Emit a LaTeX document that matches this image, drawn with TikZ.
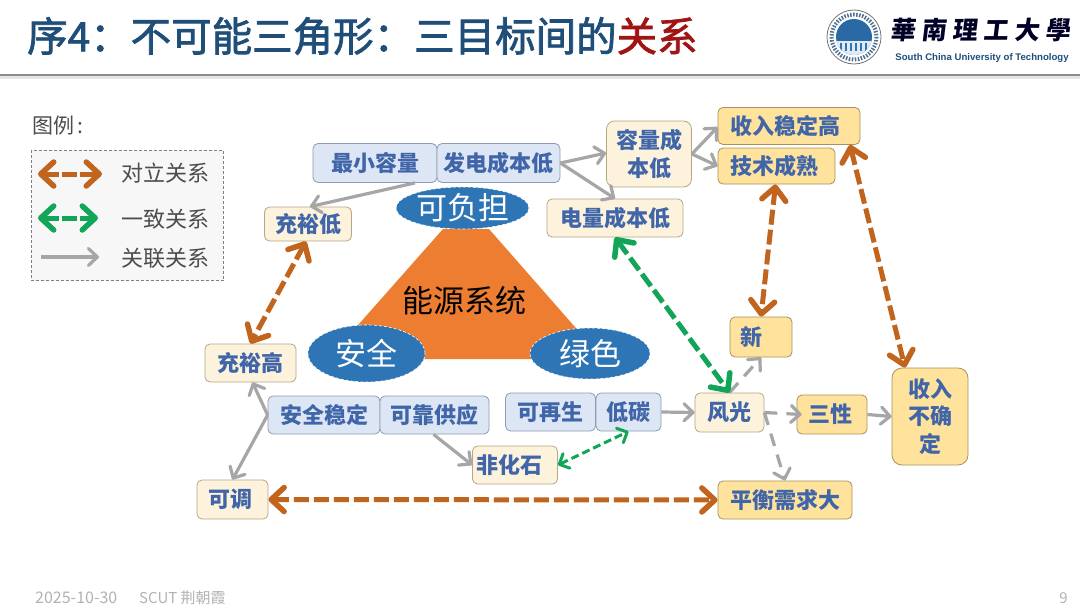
\documentclass[tikz,border=0pt]{standalone}
\usepackage{fontspec}
\usetikzlibrary{arrows.meta,shapes.geometric}
\setmainfont{Noto Sans CJK SC}
\newfontfamily\cjkf{Noto Sans CJK SC}
\newfontfamily\titlef[FakeBold=1.8]{Noto Sans CJK SC}
\newfontfamily\logof[LetterSpace=24,FakeSlant=0.12]{Noto Sans CJK SC}
\newfontfamily\latinb{Liberation Sans}
\definecolor{titleblue}{HTML}{1F4E79}
\definecolor{titlered}{HTML}{A01414}
\definecolor{boxtext}{HTML}{4065A8}
\definecolor{creamfill}{HTML}{FDF3DC}
\definecolor{creamline}{HTML}{B5A785}
\definecolor{goldfill}{HTML}{FFE29C}
\definecolor{goldline}{HTML}{A8925C}
\definecolor{bluefill}{HTML}{DDE6F4}
\definecolor{blueline}{HTML}{8E9BB2}
\definecolor{arrorange}{HTML}{C0641E}
\definecolor{arrgreen}{HTML}{12A558}
\definecolor{arrgray}{HTML}{A6A6A6}
\definecolor{ellblue}{HTML}{2E75B6}
\definecolor{triorange}{HTML}{ED7D31}
\tikzset{
  x=1pt,y=-1pt,
  boxbase/.style={rounded corners=5pt,line width=.8pt,inner sep=0pt,text=boxtext,align=center,
    font=\cjkf\bfseries\fontsize{22}{27.5}\selectfont},
  creambox/.style={boxbase,fill=creamfill,draw=creamline},
  goldbox/.style={boxbase,fill=goldfill,draw=goldline},
  bluebox/.style={boxbase,fill=bluefill,draw=blueline},
  goal/.style={ellipse,inner sep=0pt,fill=ellblue,draw=white,densely dashed,line width=.6pt,text=white,
    font=\cjkf\fontsize{31}{36}\selectfont},
  bighead/.style={Straight Barb[length=13pt,width=24pt,round,line width=5.5pt]},
  oppose/.style={draw=arrorange,line width=5pt,dash pattern=on 15pt off 5pt,{Straight Barb[length=13pt,width=24pt,round,line width=5.5pt]}-{Straight Barb[length=13pt,width=24pt,round,line width=5.5pt]}},
  agreebig/.style={draw=arrgreen,line width=5pt,dash pattern=on 15pt off 5pt,{Straight Barb[length=13pt,width=24pt,round,line width=5.5pt]}-{Straight Barb[length=13pt,width=24pt,round,line width=5.5pt]}},
  agreesmall/.style={draw=arrgreen,line width=3pt,dash pattern=on 8pt off 4pt,{Straight Barb[length=8pt,width=16pt,round,line width=3pt]}-{Straight Barb[length=8pt,width=16pt,round,line width=3pt]}},
  linked/.style={draw=arrgray,line width=3.2pt,-{Straight Barb[length=9pt,width=17pt,round,line width=3.2pt]}},
  linkeddash/.style={linked,dash pattern=on 13pt off 9pt},
  legendtext/.style={inner sep=0pt,text=black!70,font=\cjkf\fontsize{22}{26}\selectfont},
  footer/.style={inner sep=0pt,text=black!30,font=\cjkf\fontsize{15}{17}\selectfont},
}
\begin{document}
\begin{tikzpicture}
\useasboundingbox (0,0) rectangle (1080,608);
\fill[white] (0,0) rectangle (1080,608);
% title band
\node[anchor=west,inner sep=0pt,font=\titlef\fontsize{40.5}{46}\selectfont,text=titleblue] (title) at (27,36)
  {序4：不可能三角形：三目标间的\textcolor{titlered}{关系}};
\fill[black!10] (0,76) rectangle (1080,79);
\draw[black!45,line width=1.2pt] (0,75) -- (1080,75);
% logo
\draw[black!55,line width=.8pt] (854,37) circle[radius=27];
\draw[titleblue!80,line width=4pt,dash pattern=on 1.5pt off 1.5pt] (854,37) circle[radius=22.5];
\fill[ellblue!90!black] (854,37) circle[radius=18];
\begin{scope}
  \clip (854,37) circle[radius=18];
  \fill[white!85!ellblue] (836,41) rectangle (872,56);
  \foreach \k in {0,...,5} {\fill[ellblue] (840+\k*5,43) rectangle +(2,8);}
\end{scope}
\node[inner sep=0pt,text=black!85!blue,font=\logof\bfseries\fontsize{25}{30}\selectfont] (logoa) at (980.5,30) {華南理工大學};
\node[inner sep=0pt,text=titleblue,font=\latinb\bfseries\fontsize{9.6}{12}\selectfont] (logob) at (982,58) {South China University of Technology};
% legend
\node[anchor=west,inner sep=0pt,text=black!70,font=\cjkf\fontsize{21}{24}\selectfont] (legt) at (32,126) {图例\,:};
\draw[black!50,fill=black!3,line width=.6pt,densely dashed] (31,150) rectangle (223.5,280.5);
\coordinate (la) at (38,174); \coordinate (lb) at (102,174);
\coordinate (lc) at (38,218); \coordinate (ld) at (98,218);
\coordinate (le) at (41,257); \coordinate (lf) at (99,257);
\draw[oppose,dash pattern=on 15pt off 3pt] (la) -- (lb);
\draw[agreebig,dash pattern=on 15pt off 3pt] (lc) -- (ld);
\draw[linked] (le) -- (lf);
\node[legendtext,anchor=west] (l1) at (121,173) {对立关系};
\node[legendtext,anchor=west] (l2) at (121,219) {一致关系};
\node[legendtext,anchor=west] (l3) at (121,258) {关联关系};
% central triangle
\fill[triorange] (443,229) -- (489,229) -- (603,359) -- (328,359) -- cycle;
\node[inner sep=0pt,text=black,font=\cjkf\fontsize{31}{36}\selectfont] (core) at (464,301) {能源系统};
\node[goal,minimum width=133pt,minimum height=42pt] (afford) at (462.5,208) {可负担};
\node[goal,minimum width=117pt,minimum height=57pt] (safety) at (366.5,353.5) {安全};
\node[goal,minimum width=120pt,minimum height=51pt] (green) at (590,353.5) {绿色};
% boxes
\node[bluebox,minimum width=124pt,minimum height=39pt] (cmin) at (375,163) {最小容量};
\node[bluebox,minimum width=123pt,minimum height=39pt] (gen) at (498.5,163) {发电成本低};
\node[creambox,minimum width=87pt,minimum height=34pt] (lowr) at (308,224) {充裕低};
\node[creambox,rounded corners=8pt,minimum width=85pt,minimum height=66pt] (capc) at (649,154) {容量成\\本低};
\node[goldbox,minimum width=142pt,minimum height=37pt] (incs) at (789,126) {收入稳定高\hspace{7pt}};
\node[goldbox,minimum width=117pt,minimum height=36pt] (tech) at (776.5,166) {技术成熟\hspace{5pt}};
\node[creambox,minimum width=136pt,minimum height=38pt] (enrg) at (615,218) {电量成本低};
\node[creambox,minimum width=91pt,minimum height=38pt] (highr) at (250.5,363) {充裕高};
\node[bluebox,minimum width=112pt,minimum height=38pt] (safe) at (324,415) {安全稳定};
\node[bluebox,minimum width=109pt,minimum height=38pt] (rely) at (434.5,415) {可靠供应};
\node[bluebox,minimum width=90pt,minimum height=38pt] (renew) at (550.5,412) {可再生};
\node[bluebox,minimum width=65pt,minimum height=38pt] (lowc) at (628.5,412) {低碳};
\node[creambox,minimum width=85pt,minimum height=38pt] (nonf) at (515,465) {非化石\hspace{12pt}};
\node[creambox,minimum width=71pt,minimum height=39pt] (adj) at (232.5,499.5) {可调\hspace{5pt}};
\node[goldbox,minimum width=62pt,minimum height=40pt] (newn) at (761,337) {新\hspace{20pt}};
\node[creambox,minimum width=69pt,minimum height=39pt] (wind) at (729.5,412.5) {风光};
\node[goldbox,minimum width=70pt,minimum height=39pt] (three) at (832,414.5) {三性\hspace{4pt}};
\node[goldbox,rounded corners=10pt,minimum width=76pt,minimum height=97pt] (unst) at (930,416.5) {收入\\不确\\定};
\node[goldbox,minimum width=134pt,minimum height=38pt] (bal) at (785,500) {平衡需求大};
% gray links
\draw[linked] ([xshift=40pt]cmin.south) -- ([xshift=2pt]lowr.north);
\draw[linked] (gen.east) -- ([yshift=1pt]capc.west);
\draw[linked] (gen.east) -- (enrg.north);
\draw[linked] (capc.east) -- ([yshift=-1pt]incs.west);
\draw[linked] (capc.east) -- (tech.west);
\draw[linked] (safe.west) -- ([xshift=2pt]highr.south);
\draw[linked] (safe.west) -- (adj.north);
\draw[linked] ([xshift=-1pt]rely.south) -- (nonf.west);
\draw[linked] (lowc.east) -- (wind.west);
\draw[linked] (three.east) -- (unst.west);
\draw[linkeddash] (wind.north) -- (newn.south);
\draw[linkeddash] (wind.east) -- ([xshift=5pt]three.west);
\draw[linkeddash] (wind.east) -- (bal.north);
% opposing and agreeing relations
\draw[oppose] ([xshift=-1pt]tech.south) -- (newn.north);
\draw[oppose] ([xshift=61pt]incs.south) -- ([xshift=-25pt]unst.north);
\draw[oppose] ([xshift=-2pt]lowr.south) -- (highr.north);
\draw[oppose] (adj.east) -- (bal.west);
\draw[agreebig] (enrg.south) -- (wind.north);
\draw[agreesmall] (nonf.east) -- (lowc.south);
% footer
\node[footer,anchor=west,font=\cjkf\fontsize{16}{18}\selectfont] (f1) at (35,598) {2025-10-30};
\node[footer,anchor=west] (f2) at (139,598) {SCUT 荆朝霞};
\node[footer,anchor=east] (f3) at (1068,598) {9};
\end{tikzpicture}
\end{document}
